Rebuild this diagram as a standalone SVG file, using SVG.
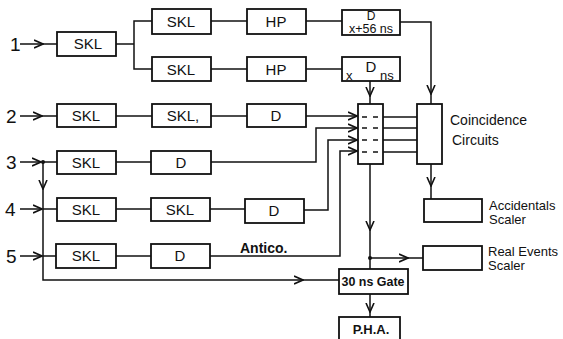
<svg xmlns="http://www.w3.org/2000/svg" width="563" height="339" viewBox="0 0 563 339">
<defs>
<marker id="ah" viewBox="0 0 10 10" refX="9" refY="5" markerWidth="10" markerHeight="10" markerUnits="userSpaceOnUse" orient="auto">
<path d="M0,1 L9,5 L0,9" fill="none" stroke="#111" stroke-width="1.6"/>
</marker>
</defs>
<style>
rect.k{fill:#fff;stroke:#111;stroke-width:1.8}
line,polyline,path.c{fill:none;stroke:#111;stroke-width:1.5}
text{font-family:"Liberation Sans",Arial,sans-serif;fill:#111}
.b{font-size:15px;text-anchor:middle}
.n{font-size:19px}
.l{font-size:14px}
.s{font-size:13px}
</style>
<rect width="563" height="339" fill="#fff"/>
<g id="connectors">
<line x1="20" y1="44" x2="43" y2="44" marker-end="url(#ah)"/>
<line x1="43" y1="44" x2="57" y2="44"/>
<polyline points="116,44 134,44"/>
<polyline points="152,21 134,21 134,69 152,69"/>
<line x1="211" y1="21" x2="247" y2="21"/>
<line x1="211" y1="69" x2="247" y2="69"/>
<line x1="306" y1="21" x2="342" y2="21"/>
<line x1="306" y1="69" x2="342" y2="69"/>
<polyline points="400,22 431,22 431,94" marker-end="url(#ah)"/>
<line x1="431" y1="94" x2="431" y2="104"/>
<line x1="370" y1="81" x2="370" y2="96" marker-end="url(#ah)"/>
<line x1="370" y1="96" x2="370" y2="104"/>
<line x1="20" y1="116" x2="42" y2="116" marker-end="url(#ah)"/>
<line x1="42" y1="116" x2="57" y2="116"/>
<line x1="116" y1="116" x2="152" y2="116"/>
<line x1="211" y1="116" x2="247" y2="116"/>
<line x1="306" y1="116" x2="357" y2="116" marker-end="url(#ah)"/>
<line x1="20" y1="162" x2="41" y2="162" marker-end="url(#ah)"/>
<line x1="43" y1="162" x2="57" y2="162"/>
<line x1="116" y1="162" x2="151" y2="162"/>
<polyline points="211,162 316,162 316,128 357,128" marker-end="url(#ah)"/>
<line x1="43" y1="162" x2="43" y2="189" marker-end="url(#ah)"/>
<polyline points="43,189 43,280 303,280" marker-end="url(#ah)"/>
<line x1="303" y1="280" x2="339" y2="280"/>
<line x1="20" y1="209" x2="42" y2="209" marker-end="url(#ah)"/>
<line x1="43" y1="209" x2="57" y2="209"/>
<line x1="116" y1="209" x2="151" y2="209"/>
<line x1="210" y1="209" x2="245" y2="209"/>
<polyline points="304,210 328,210 328,140 357,140" marker-end="url(#ah)"/>
<line x1="20" y1="256" x2="42" y2="256" marker-end="url(#ah)"/>
<line x1="43" y1="256" x2="57" y2="256"/>
<line x1="116" y1="256" x2="151" y2="256"/>
<polyline points="210,256 340,256 340,151 357,151" marker-end="url(#ah)"/>
<line x1="383" y1="117" x2="417" y2="117"/>
<line x1="383" y1="128" x2="417" y2="128"/>
<line x1="383" y1="140" x2="417" y2="140"/>
<line x1="383" y1="152" x2="417" y2="152"/>
<line x1="431" y1="164" x2="431" y2="186" marker-end="url(#ah)"/>
<line x1="431" y1="186" x2="431" y2="199"/>
<line x1="370" y1="164" x2="370" y2="230" marker-end="url(#ah)"/>
<line x1="370" y1="230" x2="370" y2="269"/>
<line x1="370" y1="258" x2="408" y2="258" marker-end="url(#ah)"/>
<line x1="408" y1="258" x2="423" y2="258"/>
<line x1="370" y1="294" x2="370" y2="312" marker-end="url(#ah)"/>
<line x1="370" y1="312" x2="370" y2="317"/>
<circle cx="43" cy="162" r="2" fill="#111"/>
<circle cx="370" cy="258" r="2" fill="#111"/>
</g>
<g id="labels">
<text class="n" x="10" y="51">1</text>
<text class="n" x="6" y="123">2</text>
<text class="n" x="6" y="169">3</text>
<text class="n" x="5" y="216">4</text>
<text class="n" x="6" y="263">5</text>
<text class="l" x="240" y="253" font-weight="bold">Antico.</text>
</g>
<g id="n1"><rect class="k" x="57" y="32" width="59" height="24"/><text class="b" x="88" y="49">SKL</text></g>
<g id="n1a"><rect class="k" x="152" y="9" width="59" height="25"/><text class="b" x="181" y="27">SKL</text></g>
<g id="n1b"><rect class="k" x="152" y="57" width="59" height="24"/><text class="b" x="181" y="75">SKL</text></g>
<g id="hp1"><rect class="k" x="247" y="9" width="59" height="25"/><text class="b" x="276" y="27">HP</text></g>
<g id="hp2"><rect class="k" x="247" y="57" width="59" height="24"/><text class="b" x="276" y="75">HP</text></g>
<g id="d1"><rect class="k" x="342" y="10" width="58" height="25"/><text x="371" y="20" font-size="12" text-anchor="middle">D</text><text x="371" y="33" font-size="12.5" text-anchor="middle">x+56 ns</text></g>
<g id="d2"><rect class="k" x="342" y="57" width="58" height="24"/><text class="b" x="371" y="72" font-size="14">D</text><text x="346" y="80" font-size="13">x</text><text x="380" y="80" font-size="13">ns</text></g>
<g id="n2a"><rect class="k" x="57" y="104" width="59" height="23"/><text class="b" x="86" y="121">SKL</text></g>
<g id="n2b"><rect class="k" x="152" y="104" width="59" height="23"/><text class="b" x="183" y="121">SKL,</text></g>
<g id="n2c"><rect class="k" x="247" y="104" width="59" height="23"/><text class="b" x="276" y="121">D</text></g>
<g id="n3a"><rect class="k" x="57" y="151" width="59" height="23"/><text class="b" x="86" y="168">SKL</text></g>
<g id="n3b"><rect class="k" x="151" y="151" width="60" height="23"/><text class="b" x="181" y="168">D</text></g>
<g id="n4a"><rect class="k" x="57" y="198" width="59" height="23"/><text class="b" x="86" y="215">SKL</text></g>
<g id="n4b"><rect class="k" x="151" y="198" width="59" height="23"/><text class="b" x="180" y="215">SKL</text></g>
<g id="n4c"><rect class="k" x="245" y="199" width="59" height="24"/><text class="b" x="274" y="216">D</text></g>
<g id="n5a"><rect class="k" x="56" y="244" width="60" height="24"/><text class="b" x="86" y="261">SKL</text></g>
<g id="n5b"><rect class="k" x="151" y="244" width="59" height="24"/><text class="b" x="180" y="261">D</text></g>
<g id="junction"><rect class="k" x="358" y="104" width="25" height="60"/>
<path class="c" d="M362,117h5M373,117h5M362,128h5M373,128h5M362,140h5M373,140h5M362,152h5M373,152h5" stroke-width="2"/></g>
<g id="coinc"><rect class="k" x="417" y="104" width="25" height="60"/><text class="l" x="450" y="125">Coincidence</text><text class="l" x="452" y="145">Circuits</text></g>
<g id="acc"><rect class="k" x="424" y="199" width="58" height="23"/><text class="s" x="489" y="210">Accidentals</text><text class="s" x="489" y="224">Scaler</text></g>
<g id="real"><rect class="k" x="423" y="246" width="59" height="24"/><text class="s" x="488" y="256">Real Events</text><text class="s" x="488" y="270">Scaler</text></g>
<g id="gate"><rect class="k" x="339" y="269" width="69" height="25"/><text x="373" y="286" font-size="13" font-weight="bold" text-anchor="middle" textLength="63" lengthAdjust="spacingAndGlyphs">30 ns Gate</text></g>
<g id="pha"><rect class="k" x="339" y="317" width="61" height="26"/><text x="371" y="334" font-size="13" font-weight="bold" text-anchor="middle">P.H.A.</text></g>
</svg>
